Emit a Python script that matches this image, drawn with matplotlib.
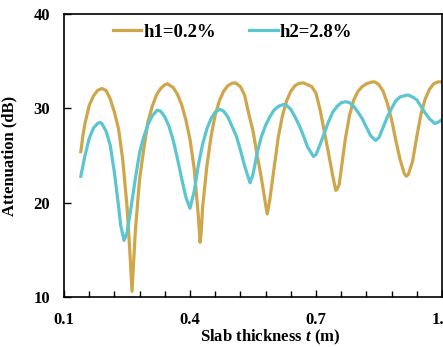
import matplotlib
matplotlib.use("Agg")
import matplotlib.pyplot as plt
from matplotlib.ticker import FixedLocator, AutoMinorLocator

plt.rcParams['font.family'] = ['Liberation Serif', 'DejaVu Serif']
plt.rcParams['font.weight'] = 'bold'
plt.rcParams['mathtext.fontset'] = 'custom'
plt.rcParams['mathtext.it'] = 'Liberation Serif:italic:bold'
plt.rcParams['mathtext.rm'] = 'Liberation Serif:bold'

# h1 = 0.2 %
x_h1 = [0.14, 0.145, 0.15, 0.16, 0.17, 0.18, 0.19, 0.20, 0.21, 0.22, 0.23, 0.24, 0.25,
        0.256, 0.262, 0.266, 0.27, 0.28, 0.29, 0.30, 0.31, 0.32, 0.33, 0.34, 0.346, 0.35,
        0.36, 0.37, 0.38, 0.39, 0.40, 0.41, 0.42, 0.424, 0.427, 0.43, 0.44, 0.45,
        0.46, 0.47, 0.48, 0.49, 0.50, 0.507, 0.51, 0.52, 0.53, 0.54, 0.55,
        0.56, 0.57, 0.58, 0.584, 0.59, 0.60, 0.61, 0.62, 0.63, 0.64, 0.65,
        0.66, 0.67, 0.68, 0.69, 0.70, 0.71, 0.72, 0.73, 0.74, 0.747, 0.75,
        0.755, 0.76, 0.77, 0.78, 0.79, 0.80, 0.81, 0.82, 0.834, 0.84, 0.85,
        0.86, 0.87, 0.88, 0.89, 0.90, 0.91, 0.915, 0.92, 0.93, 0.94, 0.95,
        0.96, 0.97, 0.98, 0.99, 1.00]
y_h1 = [25.4, 27.1, 28.4, 30.3, 31.3, 31.9, 32.1, 31.9, 31.0, 29.6, 27.8, 24.5, 19.6,
        15.4, 10.6, 13.9, 17.1, 22.5, 25.7, 28.6, 30.2, 31.4, 32.1, 32.5, 32.6, 32.5,
        32.2, 31.5, 30.4, 28.8, 26.7, 23.6, 18.5, 15.8, 17.0, 19.5, 23.8, 27.0,
        29.3, 30.8, 31.8, 32.4, 32.65, 32.7, 32.65, 32.3, 31.4, 29.4, 27.6,
        25.0, 22.6, 19.8, 18.8, 20.3, 23.6, 26.9, 29.2, 30.8, 31.8, 32.4,
        32.65, 32.7, 32.5, 32.3, 31.6, 29.8, 27.5, 25.2, 22.8, 21.3, 21.4,
        21.9, 23.5, 26.8, 29.3, 30.9, 31.8, 32.3, 32.6, 32.8, 32.8, 32.5,
        31.8, 30.5, 28.8, 26.6, 24.6, 23.1, 22.8, 23.0, 24.4, 27.0, 29.4,
        31.0, 32.0, 32.6, 32.8, 32.8]

# h2 = 2.8 %
x_h2 = [0.14, 0.15, 0.16, 0.17, 0.18, 0.186, 0.19, 0.20, 0.21, 0.22, 0.23,
        0.235, 0.243, 0.25, 0.26, 0.27, 0.28, 0.29, 0.30, 0.31, 0.322, 0.33,
        0.34, 0.35, 0.36, 0.37, 0.38, 0.39, 0.40, 0.41, 0.42, 0.43, 0.44,
        0.45, 0.46, 0.471, 0.48, 0.49, 0.50, 0.51, 0.52, 0.53, 0.543, 0.55,
        0.56, 0.57, 0.58, 0.59, 0.60, 0.61, 0.622, 0.63, 0.64, 0.65, 0.66,
        0.67, 0.68, 0.694, 0.70, 0.71, 0.72, 0.73, 0.74, 0.75, 0.76, 0.771,
        0.78, 0.79, 0.80, 0.81, 0.82, 0.83, 0.842, 0.85, 0.86, 0.87, 0.88,
        0.89, 0.90, 0.916, 0.92, 0.93, 0.94, 0.95, 0.96, 0.97, 0.983, 0.99,
        1.00]
y_h2 = [22.8, 25.0, 26.8, 27.9, 28.4, 28.5, 28.4, 27.6, 26.1, 23.2, 19.6,
        17.6, 16.0, 16.8, 19.6, 22.6, 25.3, 27.0, 28.3, 29.2, 29.8, 29.7,
        29.1, 28.1, 26.6, 24.7, 22.6, 20.6, 19.4, 21.2, 24.0, 26.2, 27.8,
        28.9, 29.6, 29.9, 29.7, 29.1, 28.1, 27.1, 25.6, 23.9, 22.1, 23.0,
        25.3, 27.0, 28.2, 29.1, 29.8, 30.2, 30.4, 30.3, 29.9, 29.1, 28.2,
        27.1, 25.9, 24.9, 25.1, 26.2, 27.4, 28.6, 29.6, 30.2, 30.6, 30.7,
        30.6, 30.2, 29.6, 28.9, 28.0, 27.1, 26.6, 26.9, 28.0, 29.1, 30.0,
        30.8, 31.2, 31.4, 31.4, 31.2, 30.9, 30.2, 29.5, 28.9, 28.4, 28.5,
        28.8]

fig = plt.figure(figsize=(4.43, 3.47), dpi=100)
ax = fig.add_axes([64/443, 1-297/347, 378/443, 283/347])

ax.plot(x_h1, y_h1, color='#CFA64A', linewidth=2.3, label='h1=0.2%',
        solid_joinstyle='round')
ax.plot(x_h2, y_h2, color='#5BC6CF', linewidth=2.3, label='h2=2.8%',
        solid_joinstyle='round')

ax.set_xlim(0.1, 1.0)
ax.set_ylim(10, 40)
ax.xaxis.set_major_locator(FixedLocator([0.1, 0.4, 0.7, 1.0]))
ax.xaxis.set_minor_locator(AutoMinorLocator(5))
ax.set_yticks([10, 20, 30, 40])
ax.tick_params(axis='both', which='both', direction='in', width=1, labelsize=12)
ax.tick_params(axis='both', which='major', length=5)
ax.tick_params(axis='x', which='minor', length=4)
ax.tick_params(axis='x', pad=11)
ax.tick_params(axis='y', pad=10)
for sp in ax.spines.values():
    sp.set_linewidth(1.2)

ax.set_xlabel('Slab thickness $t$ (m)', fontsize=12, fontweight='bold')
ax.xaxis.set_label_coords((270-64)/378, -0.11)
ax.set_ylabel('Attenuation (dB)', fontsize=12, fontweight='bold')
ax.yaxis.set_label_coords(-(64-17)/378, 0.5)

ax.legend(loc='center left', bbox_to_anchor=(113/443, 1-32/347),
          bbox_transform=fig.transFigure, ncol=2, frameon=False,
          fontsize=13.5, handlelength=1.5, handletextpad=0.1,
          columnspacing=1.8, borderpad=0, borderaxespad=0)

fig.savefig('out.png', dpi=100)
